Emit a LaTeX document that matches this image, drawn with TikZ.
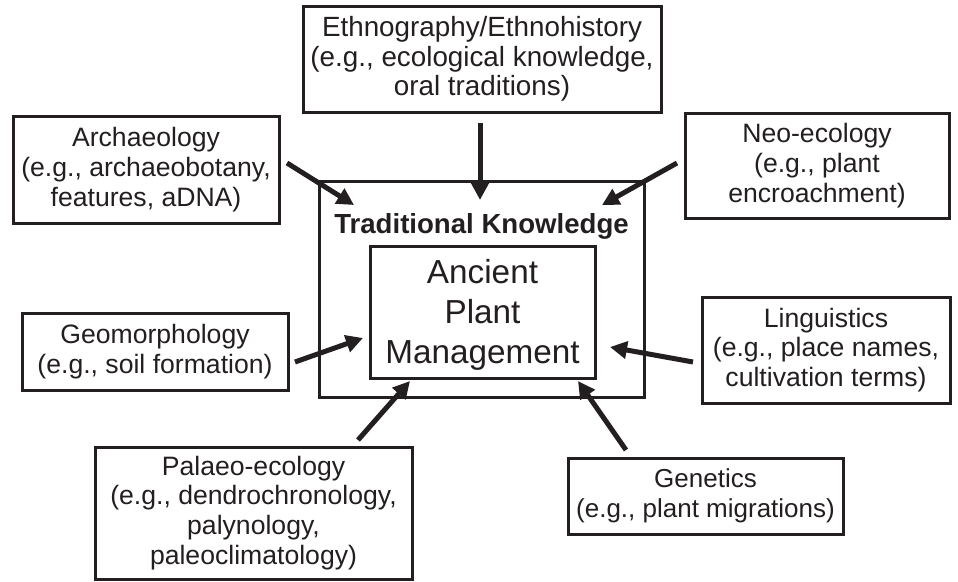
\documentclass[tikz,border=0pt]{standalone}
\usepackage{fontspec}
\setmainfont{Liberation Sans}
\usetikzlibrary{arrows.meta}
\definecolor{ink}{RGB}{35,31,32}
\begin{document}
\begin{tikzpicture}[x=1pt,y=-1pt,
  box/.style={draw=ink, line width=3pt, rectangle, inner sep=0pt, align=center,
    text=ink, font=\fontsize{26.6}{29.8}\selectfont},
  arr/.style={draw=ink, line width=5pt, -{Triangle[length=17pt,width=17pt]}}
]
\useasboundingbox[fill=white] (0,0) rectangle (958,581);

% central boxes
\node[box, minimum width=325pt, minimum height=216pt] (outer) at (481.5,289) {};
\node[box, minimum width=225pt, minimum height=132pt] (inner) at (482.5,312) {};
\node[text=ink, align=center, inner sep=0pt, font=\fontsize{33.3}{40}\selectfont] (apm) at (482.5,315) {Ancient\\Plant\\Management};
\node[anchor=base, text=ink, font=\fontsize{27.6}{30}\selectfont\bfseries, inner sep=0pt] (tk) at (481.5,233) {Traditional Knowledge};

% surrounding boxes
\node[box, minimum width=358pt, minimum height=106pt, font=\fontsize{27.8}{29.8}\selectfont] (ethno) at (482,59)
  {Ethnography/Ethnohistory\\(e.g., ecological knowledge,\\oral traditions)};
\node[box, minimum width=266pt, minimum height=107pt] (arch) at (146,169.5)
  {Archaeology\\(e.g., archaeobotany,\\features, aDNA)};
\node[box, minimum width=264pt, minimum height=105pt] (neo) at (817,165.5)
  {Neo-ecology\\(e.g., plant\\encroachment)};
\node[box, minimum width=266pt, minimum height=77pt] (geo) at (155,351.5)
  {Geomorphology\\(e.g., soil formation)};
\node[box, minimum width=248pt, minimum height=106pt] (ling) at (826,350)
  {Linguistics\\(e.g., place names,\\cultivation terms)};
\node[box, minimum width=317pt, minimum height=132pt] (palaeo) at (253.5,513)
  {Palaeo-ecology\\(e.g., dendrochronology,\\palynology,\\paleoclimatology)};
\node[box, minimum width=275pt, minimum height=76pt, font=\fontsize{26}{29.8}\selectfont] (gen) at (705.5,496)
  {Genetics\\(e.g., plant migrations)};

% arrow end points
\coordinate (ethno-t) at (480,123);  \coordinate (ethno-h) at (480,200);
\coordinate (arch-t) at (287,163);   \coordinate (arch-h) at (354,205);
\coordinate (neo-t) at (677,163);    \coordinate (neo-h) at (602,205);
\coordinate (geo-t) at (295,362);    \coordinate (geo-h) at (363,338);
\coordinate (ling-t) at (693,362);   \coordinate (ling-h) at (610,347);
\coordinate (palaeo-t) at (358,440); \coordinate (palaeo-h) at (410,381);
\coordinate (gen-t) at (626,450);    \coordinate (gen-h) at (578,381);

\draw[arr] (ethno-t) -- (ethno-h);
\draw[arr] (arch-t) -- (arch-h);
\draw[arr] (neo-t) -- (neo-h);
\draw[arr] (geo-t) -- (geo-h);
\draw[arr] (ling-t) -- (ling-h);
\draw[arr] (palaeo-t) -- (palaeo-h);
\draw[arr] (gen-t) -- (gen-h);
\end{tikzpicture}
\end{document}
